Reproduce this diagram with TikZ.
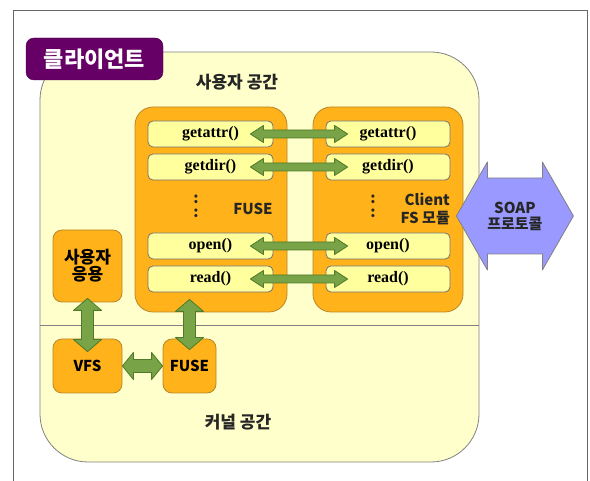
\documentclass[tikz,border=0pt]{standalone}
\usepackage{fontspec}
\newfontfamily\kr{Noto Sans CJK KR}
\newfontfamily\serifb{Liberation Serif}
\usetikzlibrary{calc}
\definecolor{bgy}{HTML}{FFFFCC}
\definecolor{org}{HTML}{FFB21A}
\definecolor{orgd}{HTML}{B8862A}
\definecolor{iny}{HTML}{FFFF9E}
\definecolor{purp}{HTML}{660066}
\definecolor{grn}{HTML}{78A346}
\definecolor{grnd}{HTML}{4F7A2A}
\definecolor{soapc}{HTML}{9999FF}
\newcommand\harrowshape[6]{% style, left tip, right tip, shaft half, head half, head length
  \draw[#1] (#2) -- ($(#2)+(#6,-#5)$) -- ($(#2)+(#6,-#4)$) -- ($(#3)+(-#6,-#4)$) -- ($(#3)+(-#6,-#5)$) -- (#3)
    -- ($(#3)+(-#6,#5)$) -- ($(#3)+(-#6,#4)$) -- ($(#2)+(#6,#4)$) -- ($(#2)+(#6,#5)$) -- cycle;}
\newcommand\varrowshape[6]{% style, top tip, bottom tip, shaft half, head half, head length
  \draw[#1] (#2) -- ($(#2)+(#5,#6)$) -- ($(#2)+(#4,#6)$) -- ($(#3)+(#4,-#6)$) -- ($(#3)+(#5,-#6)$) -- (#3)
    -- ($(#3)+(-#5,-#6)$) -- ($(#3)+(-#4,-#6)$) -- ($(#2)+(-#4,#6)$) -- ($(#2)+(-#5,#6)$) -- cycle;}
\begin{document}
\begin{tikzpicture}[x=1pt,y=-1pt,
  bigbox/.style={draw=orgd, fill=org, line width=0.8pt, rounded corners=18pt, minimum width=#1, minimum height=205},
  smallbox/.style={draw=orgd, fill=org, line width=0.8pt, rounded corners=9pt, inner sep=0pt},
  fnbox/.style={draw=black!55, fill=iny, line width=0.8pt, rounded corners=5pt, minimum height=26, inner sep=0pt,
     font=\serifb\bfseries\fontsize{16}{16}\selectfont},
  krtext/.style={font=\kr\bfseries\fontsize{17}{17}\selectfont, text=black!85},
  lbl/.style={font=\kr\bfseries\fontsize{15}{17}\selectfont, text=black!85, inner sep=0pt},
  garrow/.style={draw=grnd, fill=grn, line width=0.8pt, line join=round},
  sarrow/.style={draw=black!50, fill=soapc, line width=0.8pt, line join=round}]
\useasboundingbox (0,0) rectangle (590,481);
\fill[white] (0,0) rectangle (590,481);
\draw[black!60, line width=1pt] (13,481) -- (13,11) -- (587,11) -- (587,481);

% user/kernel space region
\node[draw=black!50, fill=bgy, line width=0.8pt, rounded corners=48pt, minimum width=439, minimum height=410, inner sep=0pt] (space) at (259.5,257) {};
\coordinate (divy) at (0,325);
\draw[black!50, line width=0.8pt] (space.west |- divy) -- (space.east |- divy);

\node[fill=purp, draw=purp!70!black, rounded corners=8pt, minimum width=137, minimum height=42, inner sep=0pt,
  text=white, font=\kr\bfseries\fontsize{22}{22}\selectfont] (clientlbl) at (94.5,59) {클라이언트};

\node[krtext] (usertitle) at (237,82) {사용자 공간};
\node[krtext] (kerneltitle) at (238,422) {커널 공간};

% FUSE and Client FS boxes
\node[bigbox=152] (fuse) at (211,209.5) {};
\node[bigbox=150] (client) at (388,209.5) {};

\node[fnbox, minimum width=125] (f1) at (210.5,134) {getattr()};
\node[fnbox, minimum width=125] (f2) at (210.5,167) {getdir()};
\node[fnbox, minimum width=125] (f3) at (210.5,246) {open()};
\node[fnbox, minimum width=125] (f4) at (210.5,279) {read()};
\node[fnbox, minimum width=124] (c1) at (388,134) {getattr()};
\node[fnbox, minimum width=124] (c2) at (388,167) {getdir()};
\node[fnbox, minimum width=124] (c3) at (388,246) {open()};
\node[fnbox, minimum width=124] (c4) at (388,279) {read()};

\node[lbl, align=center, font=\kr\bfseries\fontsize{15}{14}\selectfont] (fdots) at (196,206) {:\\:};
\node[lbl, align=center, font=\kr\bfseries\fontsize{15}{14}\selectfont] (cdots) at (373,206) {:\\:};
\node[lbl] (fuselbl) at (253,209) {FUSE};
\node[lbl, align=right, font=\kr\bfseries\fontsize{15}{18}\selectfont, anchor=east] (clientfs) at (450,209) {Client\\FS 모듈};

% left boxes
\node[smallbox, minimum width=69, minimum height=72, align=center, font=\kr\bfseries\fontsize{17}{17}\selectfont] (app) at (87.5,266) {사용자\\응용};
\node[smallbox, minimum width=69, minimum height=54, font=\kr\bfseries\fontsize{15}{15}\selectfont] (vfs) at (87.5,366) {VFS};
\node[smallbox, minimum width=53, minimum height=54, font=\kr\bfseries\fontsize{15}{15}\selectfont] (fsmall) at (189.5,366) {FUSE};

% function arrows
\foreach \i in {1,2,3,4}{
  \coordinate (al\i) at ($(f\i.east)+(-23,0)$);
  \coordinate (ar\i) at ($(c\i.west)+(22,0)$);
  \harrowshape{garrow}{al\i}{ar\i}{4}{8.5}{13}
}
% vertical arrows
\coordinate (v1t) at ($(app.south)+(0,-4)$);
\coordinate (v1b) at ($(vfs.north)+(0,13)$);
\varrowshape{garrow}{v1t}{v1b}{6}{14}{12}
\coordinate (v2t) at ($(fuse.south -| fsmall)+(0,-13)$);
\coordinate (v2b) at ($(fsmall.north)+(0,11)$);
\varrowshape{garrow}{v2t}{v2b}{6}{14}{12}
% VFS <-> FUSE
\harrowshape{garrow}{vfs.east}{fsmall.west}{6.5}{13.5}{11}

% SOAP arrow
\coordinate (sl) at ($(client.east)+(-7,6.5)$);
\coordinate (sr) at ($(sl)+(117,0)$);
\harrowshape{sarrow}{sl}{sr}{38}{54}{31}
\node[align=center, font=\kr\bfseries\fontsize{15}{16}\selectfont, text=black!85] (soaptxt) at ($(sl)!0.5!(sr)$) {SOAP\\프로토콜};
\end{tikzpicture}
\end{document}
